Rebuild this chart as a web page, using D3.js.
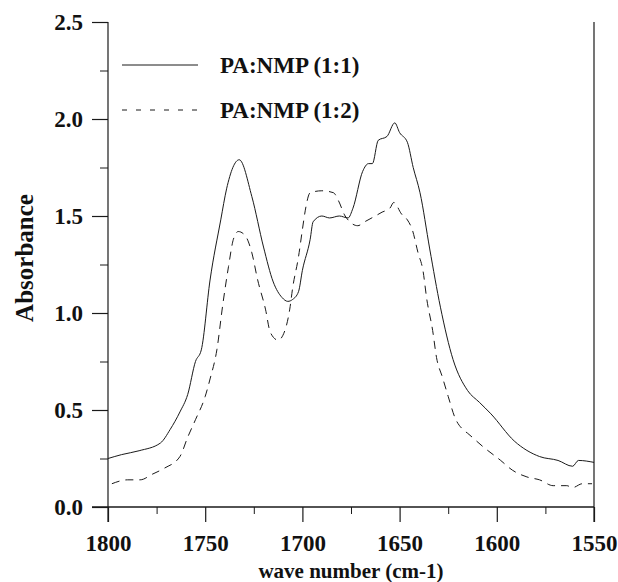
<!DOCTYPE html>
<html>
<head>
<meta charset="utf-8">
<script src="https://cdn.jsdelivr.net/npm/d3@7"></script>
<style>
  body { margin: 0; background: #fff; }
  svg text { font-family: "Liberation Serif", "Times New Roman", serif; font-weight: bold; fill: #111; }
</style>
</head>
<body>
<div id="chart"></div>
<script>
// series 1: PA:NMP (1:1), solid
const wave11 = [1800, 1793, 1784, 1773, 1768, 1763, 1759, 1755, 1752, 1747.5, 1742, 1739, 1732.5, 1726, 1720, 1715, 1710.5, 1707.5, 1705, 1702, 1700, 1696, 1694.5, 1690, 1686, 1681, 1676.5, 1674, 1669, 1666, 1664, 1661, 1656.5, 1652.5, 1650, 1646, 1643, 1639.5, 1634.5, 1629, 1622.5, 1615, 1609, 1603, 1591, 1578, 1568.5, 1561, 1558, 1550];
const abs11 = [0.25, 0.27, 0.29, 0.33, 0.40, 0.49, 0.58, 0.75, 0.81, 1.17, 1.48, 1.64, 1.79, 1.60, 1.34, 1.16, 1.08, 1.06, 1.07, 1.11, 1.22, 1.38, 1.47, 1.50, 1.49, 1.50, 1.49, 1.54, 1.73, 1.77, 1.77, 1.89, 1.91, 1.98, 1.93, 1.88, 1.75, 1.62, 1.33, 1.03, 0.76, 0.60, 0.54, 0.48, 0.34, 0.26, 0.24, 0.21, 0.24, 0.23];

// series 2: PA:NMP (1:2), dashed
const wave12 = [1798, 1790, 1783.5, 1777, 1771, 1763, 1759, 1755, 1750, 1747.5, 1744, 1741, 1738, 1735.5, 1733, 1729.5, 1726, 1723, 1719, 1716.5, 1712.5, 1709, 1706.5, 1705, 1702, 1700, 1698.5, 1696, 1690, 1684, 1681.5, 1678, 1671.5, 1668, 1662.5, 1659, 1655, 1653, 1649, 1646, 1643.5, 1640.5, 1638, 1636, 1633, 1631, 1628, 1625, 1621.5, 1617.5, 1615, 1607, 1598, 1592, 1584.5, 1578, 1571, 1564, 1561, 1556, 1551];
const abs12 = [0.12, 0.14, 0.14, 0.17, 0.20, 0.26, 0.36, 0.45, 0.57, 0.66, 0.81, 1.04, 1.24, 1.38, 1.42, 1.40, 1.31, 1.17, 1.02, 0.90, 0.86, 0.91, 1.02, 1.13, 1.29, 1.43, 1.53, 1.62, 1.63, 1.62, 1.58, 1.50, 1.45, 1.47, 1.50, 1.52, 1.54, 1.57, 1.51, 1.48, 1.43, 1.31, 1.22, 1.07, 0.91, 0.77, 0.67, 0.57, 0.46, 0.40, 0.38, 0.31, 0.24, 0.19, 0.155, 0.14, 0.11, 0.11, 0.10, 0.12, 0.12];

const xMajor = [1800, 1750, 1700, 1650, 1600, 1550];
const xMinor = [1775, 1725, 1675, 1625, 1575];
const yMajor = [0, 0.5, 1.0, 1.5, 2.0, 2.5];
const yMinor = [0.25, 0.75, 1.25, 1.75, 2.25];

const legendNames = ["PA:NMP (1:1)", "PA:NMP (1:2)"];

const width = 618, height = 582;
const margin = { top: 22, right: 24, bottom: 75, left: 108 };

const svg = d3.select("#chart").append("svg")
  .attr("width", width)
  .attr("height", height);

const x = d3.scaleLinear().domain([1800, 1550]).range([margin.left, width - margin.right]);
const y = d3.scaleLinear().domain([0, 2.5]).range([height - margin.bottom, margin.top]);

const ink = "#1a1a1a";
const tickFont = 23;
const titleFont = 21;

// axis lines (left, bottom, right), extending past the zero line
const x0 = x.range()[0], x1 = x.range()[1], y0 = y.range()[0], y1 = y.range()[1];
svg.append("line").attr("x1", x0).attr("x2", x0).attr("y1", y1).attr("y2", y0 + 15)
  .attr("stroke", ink).attr("stroke-width", 1.2);
svg.append("line").attr("x1", x0 - 16).attr("x2", x1).attr("y1", y0).attr("y2", y0)
  .attr("stroke", ink).attr("stroke-width", 1.4);
svg.append("line").attr("x1", x1).attr("x2", x1).attr("y1", y1).attr("y2", y0 + 15)
  .attr("stroke", ink).attr("stroke-width", 1.2);

// y axis
const yAxis = svg.append("g")
  .attr("transform", `translate(${x0},0)`)
  .call(d3.axisLeft(y).tickValues(yMajor).tickSize(16).tickPadding(9).tickFormat(d3.format(".1f")));
yAxis.select(".domain").remove();
yAxis.selectAll("line").attr("stroke", ink).attr("stroke-width", 1.2);
yAxis.selectAll("text").style("font-size", tickFont + "px").attr("fill", ink);

const yAxisMinor = svg.append("g")
  .attr("transform", `translate(${x0},0)`)
  .call(d3.axisLeft(y).tickValues(yMinor).tickSize(8).tickFormat(""));
yAxisMinor.select(".domain").remove();
yAxisMinor.selectAll("line").attr("stroke", ink).attr("stroke-width", 1);

// x axis
const xAxis = svg.append("g")
  .attr("transform", `translate(0,${y0})`)
  .call(d3.axisBottom(x).tickValues(xMajor).tickSize(15).tickPadding(13).tickFormat(d3.format("d")));
xAxis.select(".domain").remove();
xAxis.selectAll("line").attr("stroke", ink).attr("stroke-width", 1.2);
xAxis.selectAll("text").style("font-size", tickFont + "px").attr("fill", ink);

const xAxisMinor = svg.append("g")
  .attr("transform", `translate(0,${y0})`)
  .call(d3.axisBottom(x).tickValues(xMinor).tickSize(7).tickFormat(""));
xAxisMinor.select(".domain").remove();
xAxisMinor.selectAll("line").attr("stroke", ink).attr("stroke-width", 1);

// axis titles
svg.append("text")
  .attr("x", (x0 + x1) / 2)
  .attr("y", 578)
  .attr("text-anchor", "middle")
  .style("font-size", titleFont + "px")
  .text("wave number (cm-1)");

svg.append("text")
  .attr("transform", "translate(33,258) rotate(-90)")
  .attr("text-anchor", "middle")
  .style("font-size", "25px")
  .text("Absorbance");

// curves
const line = d3.line().x(d => x(d[0])).y(d => y(d[1])).curve(d3.curveMonotoneX);
const series = [
  { pts: d3.zip(wave11, abs11), dash: null },
  { pts: d3.zip(wave12, abs12), dash: "8,6" }
];

svg.selectAll("path.curve")
  .data(series)
  .join("path")
  .attr("class", "curve")
  .attr("d", d => line(d.pts))
  .attr("fill", "none")
  .attr("stroke", ink)
  .attr("stroke-width", 1)
  .attr("stroke-dasharray", d => d.dash);

// legend
const legend = svg.append("g");
legendNames.forEach((name, i) => {
  const ly = 65 + i * 45;
  legend.append("line")
    .attr("x1", 122).attr("x2", 198)
    .attr("y1", ly).attr("y2", ly)
    .attr("stroke", ink)
    .attr("stroke-width", 1)
    .attr("stroke-dasharray", i === 0 ? null : "5,9");
  legend.append("text")
    .attr("x", 220)
    .attr("y", ly + 8)
    .style("font-size", tickFont + "px")
    .text(name);
});
</script>
</body>
</html>
